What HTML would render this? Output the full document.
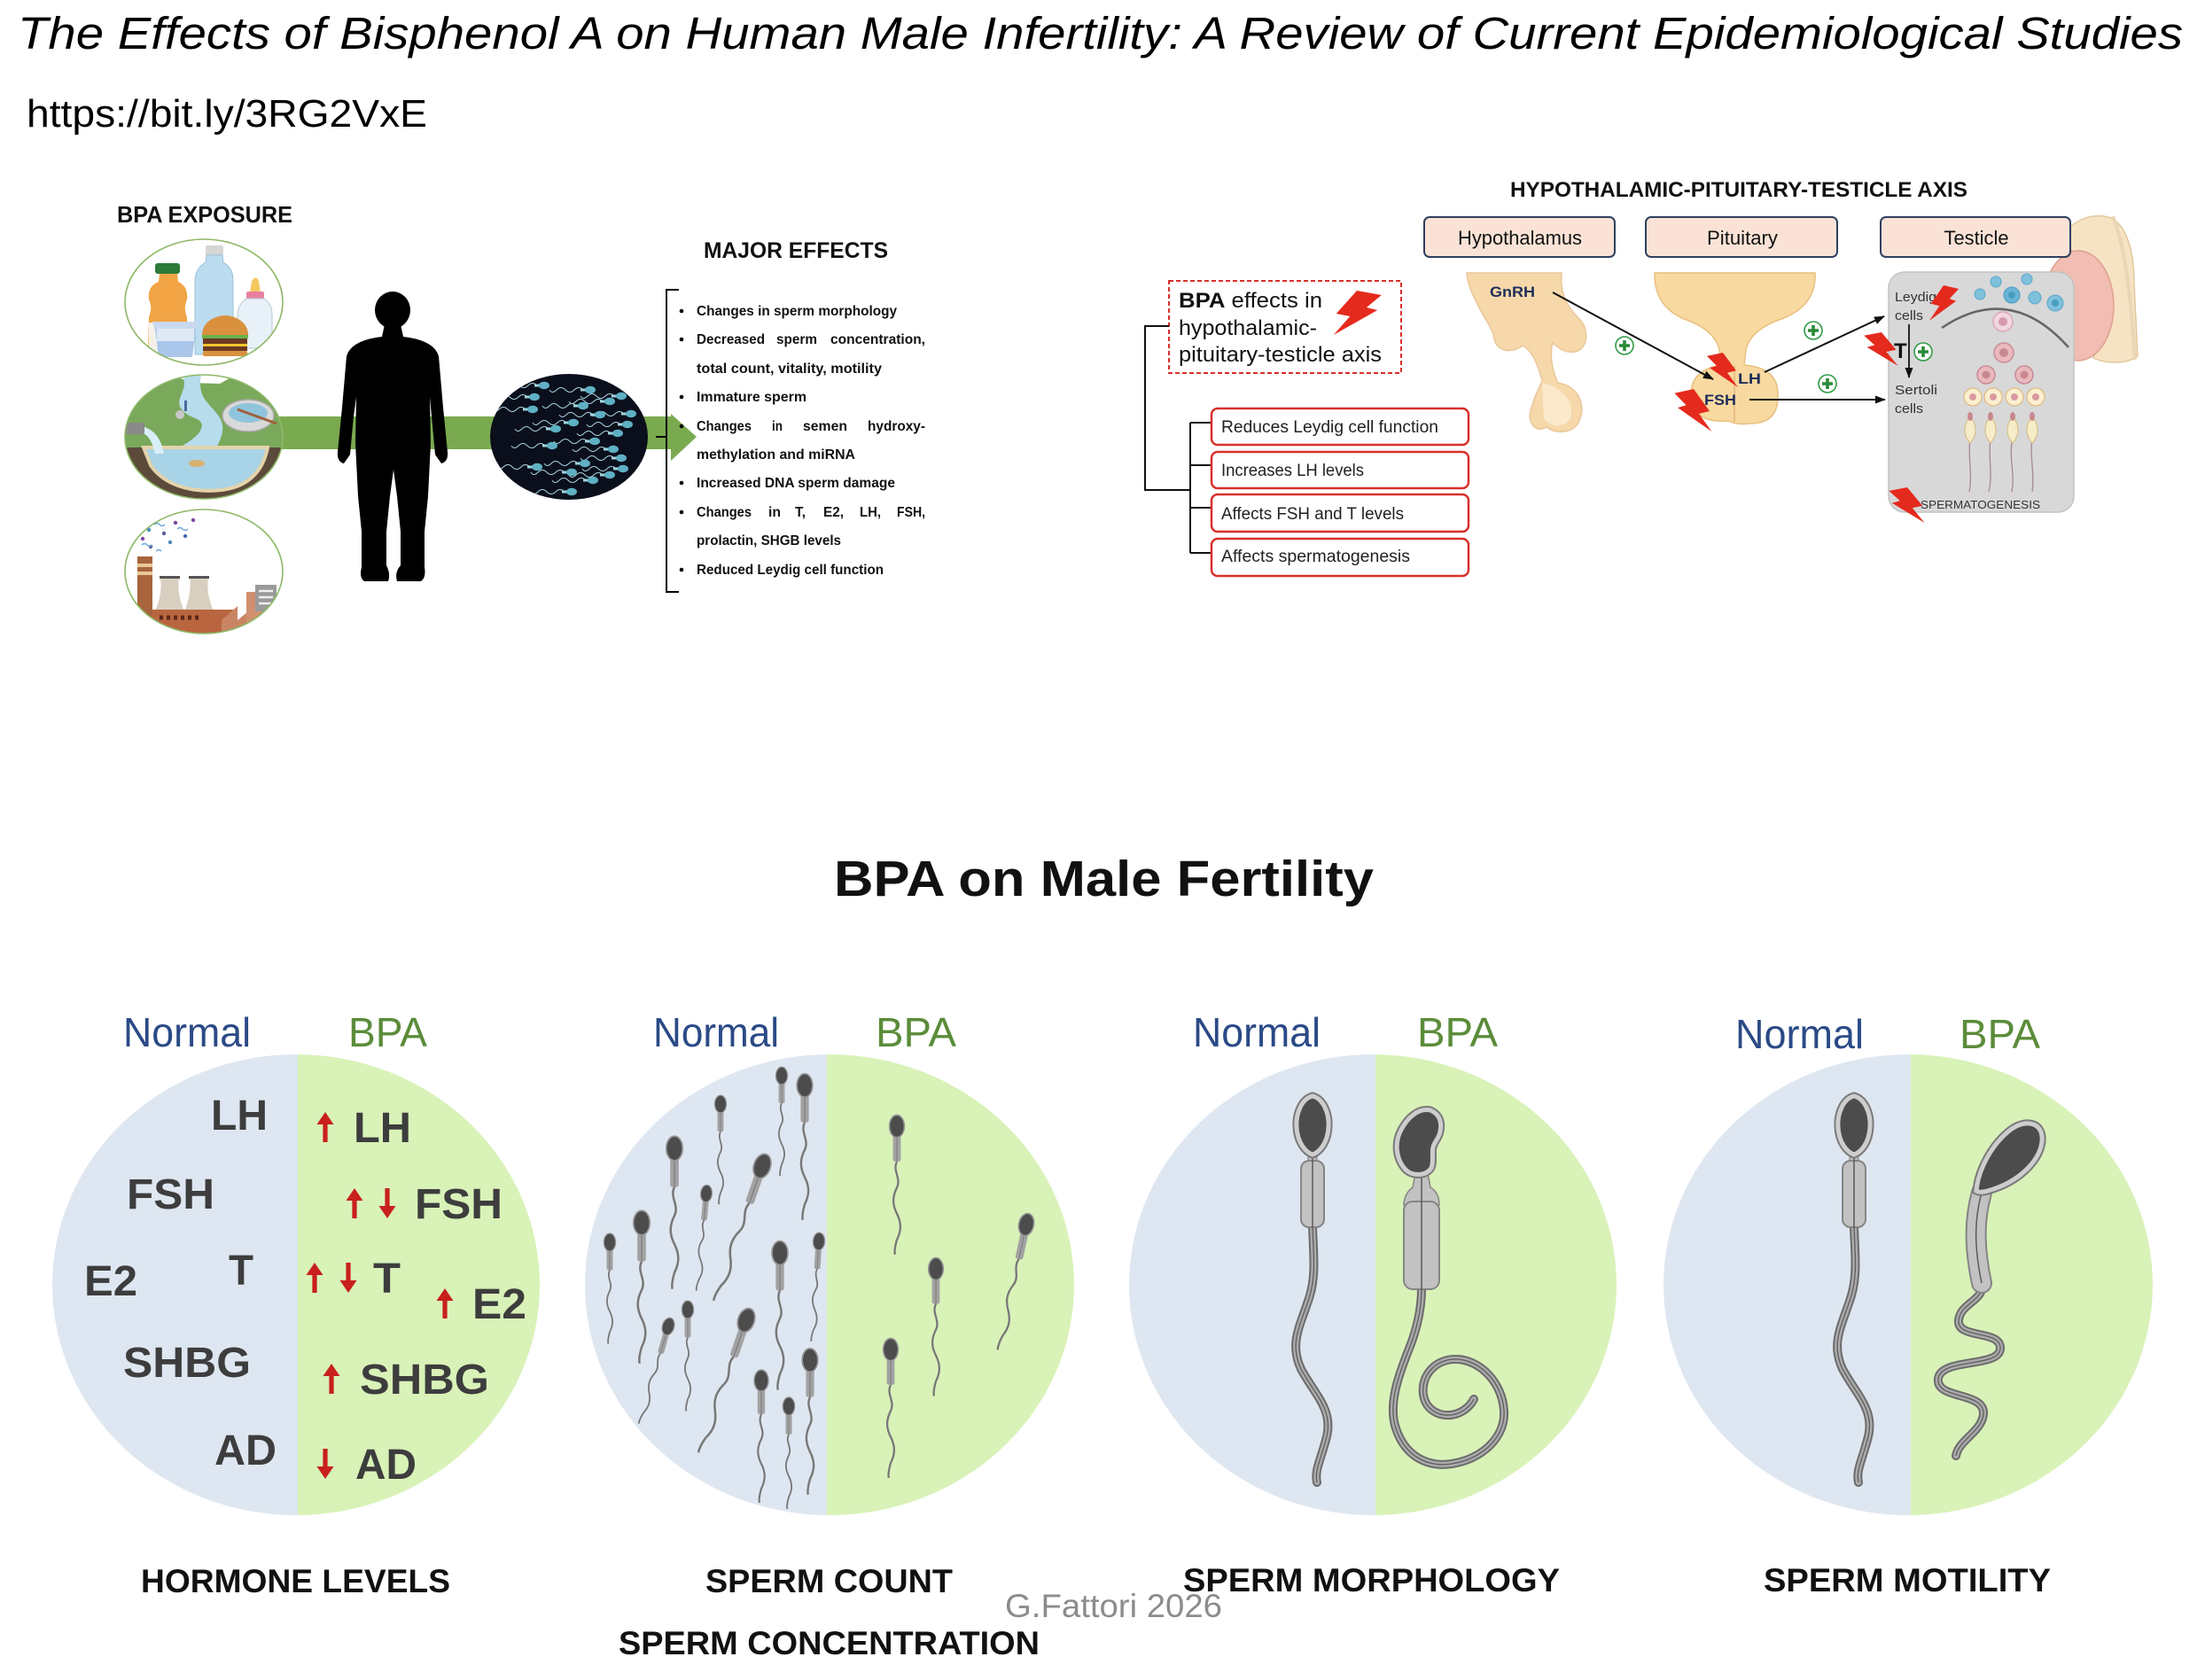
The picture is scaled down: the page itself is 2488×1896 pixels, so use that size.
<!DOCTYPE html>
<html><head><meta charset="utf-8">
<style>
html,body{margin:0;padding:0;background:#fff;}
svg{display:block;}
text{font-family:"Liberation Sans",sans-serif;}
</style></head><body>
<svg width="2488" height="1896" viewBox="0 0 2488 1896" xmlns="http://www.w3.org/2000/svg">
<defs>
  <clipPath id="c1"><ellipse cx="230" cy="341" rx="89" ry="71"/></clipPath>
  <clipPath id="c2"><ellipse cx="230" cy="493" rx="89" ry="70"/></clipPath>
  <clipPath id="c3"><ellipse cx="230" cy="645" rx="89" ry="70"/></clipPath>
  <clipPath id="cd"><ellipse cx="642" cy="493" rx="89" ry="71"/></clipPath>
  <clipPath id="bc1"><ellipse cx="334" cy="1450" rx="275" ry="260"/></clipPath>
  <clipPath id="bc2"><ellipse cx="936" cy="1450" rx="276" ry="260"/></clipPath>
  <clipPath id="bc3"><ellipse cx="1549" cy="1450" rx="275" ry="260"/></clipPath>
  <clipPath id="bc4"><ellipse cx="2153" cy="1450" rx="276" ry="260"/></clipPath>
  <marker id="ah" markerWidth="12" markerHeight="10" refX="11" refY="5" orient="auto" markerUnits="userSpaceOnUse"><path d="M0 0.5 L12 5 L0 9.5 Z" fill="#111"/></marker>
  <g id="plus"><circle r="10" fill="#fff" stroke="#2f9a44" stroke-width="1.6"/><path d="M-6 0H6M0 -6V6" stroke="#2a8a38" stroke-width="3.6"/></g>
  <path id="bolt" d="M20 0 L38 5 L27 19 L35 22 L3 50 L15 29 L5 26 Z" fill="#e42a1d"/>
  <g id="up"><path d="M0 0 L-9.5 14 L-2.6 14 L-2.6 34 L2.6 34 L2.6 14 L9.5 14 Z" fill="#c8201c"/></g>
  <g id="ss">
    <path d="M0 38 c-5 10 5 18 0 28 s-5 18 0 28 s5 18 0 28 c-2 7 -3 12 -2 16" stroke="#787878" stroke-width="2.2" fill="none"/>
    <rect x="-4.2" y="10" width="8.4" height="28" rx="2.5" fill="#a2a2a2"/>
    <line x1="0" y1="10" x2="0" y2="38" stroke="#7a7a7a" stroke-width="1"/>
    <ellipse cx="0" cy="0" rx="8" ry="12" fill="#4c4c4c" stroke="#959595" stroke-width="1.5"/>
  </g>
  <g id="cs">
    <path d="M-8 0 q-5 -5 -10 0 t-10 0 t-10 0 t-8 0" stroke="#a9d2de" stroke-width="1" fill="none"/>
    <rect x="-11" y="-1.5" width="7" height="3" fill="#9fd3de"/>
    <ellipse cx="0" cy="0" rx="6" ry="4.2" fill="#5fb0c4"/>
  </g>
  <path id="hN" d="M1481 1237 C1469 1240 1462 1256 1463 1272 C1464 1290 1473 1300 1481 1303 C1489 1300 1498 1290 1499 1272 C1500 1256 1493 1240 1481 1237 Z"/>
  <path id="tN" fill="none" d="M1481 1384 C1482 1415 1485 1438 1478 1462 C1468 1495 1454 1515 1468 1545 C1484 1575 1506 1592 1496 1625 C1490 1648 1483 1660 1486 1673"/>
  <g id="bigN">
    <use href="#tN" stroke="#6c6c6c" stroke-width="10" stroke-linecap="round"/>
    <use href="#tN" stroke="#ababab" stroke-width="6" stroke-linecap="round"/>
    <use href="#tN" stroke="#5e5e5e" stroke-width="1.3"/>
    <rect x="1476" y="1298" width="10" height="16" fill="#bdbdbd" stroke="#888" stroke-width="1.2"/>
    <rect x="1468" y="1310" width="26" height="75" rx="9" fill="#c2c2c2" stroke="#858585" stroke-width="2"/>
    <line x1="1481" y1="1303" x2="1481" y2="1386" stroke="#5a5a5a" stroke-width="1.5"/>
    <use href="#hN" fill="none" stroke="#7a7a7a" stroke-width="9"/>
    <use href="#hN" fill="#4c4c4c" stroke="#cdcdcd" stroke-width="5"/>
  </g>
  <path id="hB" d="M1614 1253 C1600 1250 1588 1262 1581 1275 C1573 1290 1575 1308 1586 1320 C1594 1328 1610 1327 1615 1318 C1619 1308 1613 1298 1620 1288 C1627 1278 1630 1260 1614 1253 Z"/>
  <path id="tB" fill="none" d="M1604 1454 C1604 1480 1598 1502 1590 1522 C1578 1552 1566 1585 1575 1612 C1586 1645 1612 1656 1638 1652 C1672 1647 1699 1622 1697 1592 C1695 1560 1670 1535 1644 1534 C1620 1533 1603 1552 1606 1574 C1609 1593 1627 1600 1642 1596 C1653 1593 1660 1585 1663 1579"/>
  <path id="hM" d="M2230 1344 C2232 1320 2248 1290 2270 1274 C2288 1262 2306 1268 2304 1288 C2302 1308 2282 1330 2252 1341 C2243 1344 2235 1347 2230 1344 Z"/>
  <path id="mM" fill="none" d="M2236 1346 C2228 1375 2227 1405 2236 1448"/>
  <path id="tM" fill="none" d="M2236 1448 C2240 1468 2212 1470 2210 1490 C2208 1512 2258 1500 2257 1522 C2256 1544 2190 1532 2187 1556 C2184 1580 2240 1570 2238 1596 C2236 1616 2210 1625 2207 1643"/>
</defs>

<!-- Title -->
<text x="20" y="55" font-size="51" font-style="italic" fill="#000" textLength="2443" lengthAdjust="spacingAndGlyphs">The Effects of Bisphenol A on Human Male Infertility: A Review of Current Epidemiological Studies</text>
<text x="30" y="143" font-size="44" fill="#000" textLength="452" lengthAdjust="spacingAndGlyphs">https://bit.ly/3RG2VxE</text>

<!-- ===== TOP LEFT ===== -->
<text x="132" y="251" font-size="26" font-weight="bold" fill="#111" textLength="198" lengthAdjust="spacingAndGlyphs">BPA EXPOSURE</text>

<rect x="300" y="470" width="460" height="37" fill="#7aaa50"/>
<path d="M757 467 L786 493 L757 520 Z" fill="#7aaa50"/>

<!-- circle 1: products -->
<ellipse cx="230" cy="341" rx="89" ry="71" fill="#fff"/>
<g clip-path="url(#c1)">
  <rect x="175" y="297" width="28" height="12" rx="3" fill="#2e7a3a"/>
  <path d="M180 309 L200 309 L201 318 C210 322 212 330 211 338 C208 345 208 350 211 358 L212 397 L167 397 L168 358 C171 350 171 345 168 338 C167 330 169 322 179 318 Z" fill="#f2a444"/>
  <rect x="168" y="364" width="44" height="33" fill="#f5f1ea"/>
  <rect x="232" y="277" width="20" height="11" rx="2" fill="#d6d6d6"/>
  <path d="M233 288 L251 288 L252 296 C262 302 263 310 263 318 L263 400 L220 400 L220 318 C220 310 222 302 232 296 Z" fill="#bcdcf0" stroke="#9bbfd8" stroke-width="1"/>
  <path d="M284 318 C286 312 291 312 292 318 L294 330 L282 330 Z" fill="#f5c860"/>
  <rect x="278" y="329" width="20" height="8" rx="2" fill="#e87fa0"/>
  <path d="M278 337 L298 337 C305 342 307 348 307 356 L307 393 L268 393 L268 356 C268 348 271 342 278 337 Z" fill="#e8f1f7" stroke="#b8c8d4" stroke-width="1"/>
  <path d="M172 363 L224 363 L222 371 L174 371 Z" fill="#c8daf0"/>
  <path d="M175 371 L221 371 L217 403 L179 403 Z" fill="#aac6ea"/>
  <rect x="177" y="371" width="42" height="14" fill="#dfe9f6"/>
  <path d="M228 378 C228 362 245 356 254 356 C263 356 280 362 280 378 Z" fill="#d9913e"/>
  <rect x="228" y="378" width="52" height="4" fill="#6ab04c"/>
  <rect x="229" y="382" width="50" height="6" fill="#6b3a22"/>
  <rect x="229" y="388" width="50" height="3" fill="#f4c430"/>
  <rect x="229" y="391" width="50" height="5" fill="#6b3a22"/>
  <rect x="229" y="396" width="50" height="6" rx="2" fill="#d9913e"/>
</g>
<ellipse cx="230" cy="341" rx="89" ry="71" fill="none" stroke="#8db866" stroke-width="1.6"/>

<!-- circle 2: environment -->
<g clip-path="url(#c2)">
  <rect x="140" y="420" width="182" height="150" fill="#7aa95c"/>
  <path d="M196 423 L266 423 L248 433 L214 432 Z" fill="#fff"/>
  <path d="M205 423 C215 440 195 450 205 462 C215 475 235 470 225 488 C215 500 200 505 192 512 L242 512 C247 497 257 485 247 470 C237 455 222 450 227 423 Z" fill="#b7dcec"/>
  <rect x="140" y="505" width="182" height="65" fill="#5c4a3a"/>
  <path d="M162 505 L302 505 C297 530 282 549 250 553 C214 557 184 546 170 525 Z" fill="#a9d3e6" stroke="#e3d3ab" stroke-width="4"/>
  <rect x="141" y="477" width="22" height="13" fill="#8a8a8a"/>
  <path d="M163 482 C175 486 182 496 185 512 L175 512 C172 500 168 492 163 490 Z" fill="#d8eef8"/>
  <ellipse cx="280" cy="469" rx="29" ry="18" fill="#d9d9d9" stroke="#a8a8a8" stroke-width="1.5"/>
  <ellipse cx="280" cy="466" rx="22" ry="11" fill="#8fc4dc"/>
  <path d="M268 462 L312 478" stroke="#a0603a" stroke-width="3"/>
  <ellipse cx="222" cy="523" rx="9" ry="4" fill="#d8b070"/>
  <circle cx="203" cy="468" r="5" fill="#c8c8c8"/>
  <rect x="208" y="452" width="3" height="12" fill="#4a6aa0"/>
</g>
<ellipse cx="230" cy="493" rx="89" ry="70" fill="none" stroke="#8db866" stroke-width="1.6"/>

<!-- circle 3: factory -->
<ellipse cx="230" cy="645" rx="89" ry="70" fill="#fff"/>
<g clip-path="url(#c3)">
  <circle cx="181" cy="583" r="2.2" fill="#4a6ab0"/><circle cx="198" cy="590" r="2.2" fill="#7a4aa0"/>
  <circle cx="168" cy="598" r="2.2" fill="#4a8ac0"/><circle cx="185" cy="602" r="2.2" fill="#5a5a9a"/>
  <circle cx="209" cy="605" r="2.2" fill="#4a6ab0"/><circle cx="161" cy="608" r="2.2" fill="#7a4aa0"/>
  <circle cx="192" cy="612" r="2.2" fill="#4a8ac0"/><circle cx="170" cy="617" r="2.2" fill="#5a5a9a"/>
  <circle cx="218" cy="587" r="2.2" fill="#7a4aa0"/>
  <path d="M174 592 q3 -3 6 0 t6 0 M200 597 q3 -3 6 0 t6 0 M160 615 q3 -3 6 0 t6 0 M176 622 q3 -3 6 0" stroke="#6aa8d8" stroke-width="1.4" fill="none"/>
  <rect x="155" y="628" width="17" height="92" fill="#a8643c"/>
  <rect x="155" y="636" width="17" height="4" fill="#e8c89a"/>
  <rect x="155" y="645" width="17" height="4" fill="#e8c89a"/>
  <path d="M181 652 L202 652 C200 665 203 678 208 690 L175 690 C180 678 183 665 181 652 Z" fill="#d8cfc0"/>
  <path d="M214 652 L235 652 C233 665 236 678 241 690 L208 690 C213 678 216 665 214 652 Z" fill="#d8cfc0"/>
  <rect x="180" y="650" width="23" height="3" fill="#555"/>
  <rect x="213" y="650" width="23" height="3" fill="#555"/>
  <rect x="172" y="688" width="95" height="30" fill="#b9653f"/>
  <path d="M180 697 h4 m4 0 h4 m4 0 h4 m4 0 h4 m4 0 h4 m4 0 h4" stroke="#5a2a1a" stroke-width="5"/>
  <path d="M250 718 L250 700 L268 684 L268 700 L280 690 L280 718 Z" fill="#c98563"/>
  <rect x="278" y="668" width="34" height="50" fill="#d09070"/>
  <rect x="288" y="660" width="24" height="30" fill="#9a9a9a"/>
  <path d="M292 667 h16 M292 674 h16 M292 681 h16" stroke="#eee" stroke-width="2.5"/>
</g>
<ellipse cx="230" cy="645" rx="89" ry="70" fill="none" stroke="#8db866" stroke-width="1.6"/>

<!-- man silhouette -->
<ellipse cx="443" cy="350" rx="20" ry="21" fill="#000"/>
<path d="M434 366 L452 366 L455 380 Q490 384 495 402 L500 460 L505 510 Q506 521 498 523 L491 513 L487 470 L485 448 L486 500 L483 560 L479 600 L479 640 Q481 652 475 656 L448 656 Q445 646 452 638 L452 600 L448 560 L444 530 L440 560 L436 600 L436 638 Q441 648 438 656 L411 656 Q405 652 408 640 L408 600 L404 560 L401 500 L402 448 L399 470 L395 513 L388 523 Q380 521 381 510 L386 460 L391 402 Q396 384 431 380 Z" fill="#000"/>

<!-- dark sperm circle -->
<ellipse cx="642" cy="493" rx="89" ry="71" fill="#0b0f1c"/>
<g clip-path="url(#cd)">
  <use href="#cs" x="614" y="435"/><use href="#cs" x="666" y="440"/><use href="#cs" x="701" y="447"/>
  <use href="#cs" x="603" y="448"/><use href="#cs" x="688" y="453"/><use href="#cs" x="658" y="458"/>
  <use href="#cs" x="601" y="462"/><use href="#cs" x="712" y="467"/><use href="#cs" x="677" y="468"/>
  <use href="#cs" x="647" y="477"/><use href="#cs" x="708" y="479"/><use href="#cs" x="627" y="484"/>
  <use href="#cs" x="697" y="489"/><use href="#cs" x="671" y="498"/><use href="#cs" x="623" y="503"/>
  <use href="#cs" x="692" y="507"/><use href="#cs" x="701" y="517"/><use href="#cs" x="606" y="527"/>
  <use href="#cs" x="660" y="523"/><use href="#cs" x="703" y="529"/><use href="#cs" x="645" y="533"/>
  <use href="#cs" x="669" y="542"/><use href="#cs" x="645" y="555"/><use href="#cs" x="688" y="536"/>
</g>

<!-- Major effects -->
<text x="794" y="291" font-size="25" font-weight="bold" fill="#111" textLength="208" lengthAdjust="spacingAndGlyphs">MAJOR EFFECTS</text>
<path d="M766 327 L752 327 L752 668 L766 668 M740 493 L752 493" stroke="#000" stroke-width="2" fill="none"/>
<g fill="#000">
  <circle cx="769" cy="351" r="2.3"/><circle cx="769" cy="383" r="2.3"/><circle cx="769" cy="448" r="2.3"/>
  <circle cx="769" cy="481" r="2.3"/><circle cx="769" cy="545" r="2.3"/><circle cx="769" cy="578" r="2.3"/>
  <circle cx="769" cy="643" r="2.3"/>
</g>
<g font-size="16" font-weight="bold" fill="#111">
  <text x="786" y="356" textLength="226" lengthAdjust="spacingAndGlyphs">Changes in sperm morphology</text>
  <text x="786" y="388" textLength="77" lengthAdjust="spacingAndGlyphs">Decreased</text>
  <text x="876" y="388" textLength="46" lengthAdjust="spacingAndGlyphs">sperm</text>
  <text x="937" y="388" textLength="107" lengthAdjust="spacingAndGlyphs">concentration,</text>
  <text x="786" y="421" textLength="209" lengthAdjust="spacingAndGlyphs">total count, vitality, motility</text>
  <text x="786" y="453" textLength="124" lengthAdjust="spacingAndGlyphs">Immature sperm</text>
  <text x="786" y="486" textLength="62" lengthAdjust="spacingAndGlyphs">Changes</text>
  <text x="871" y="486" textLength="12" lengthAdjust="spacingAndGlyphs">in</text>
  <text x="906" y="486" textLength="50" lengthAdjust="spacingAndGlyphs">semen</text>
  <text x="979" y="486" textLength="65" lengthAdjust="spacingAndGlyphs">hydroxy-</text>
  <text x="786" y="518" textLength="179" lengthAdjust="spacingAndGlyphs">methylation and miRNA</text>
  <text x="786" y="550" textLength="224" lengthAdjust="spacingAndGlyphs">Increased DNA sperm damage</text>
  <text x="786" y="583" textLength="62" lengthAdjust="spacingAndGlyphs">Changes</text>
  <text x="867" y="583" textLength="14" lengthAdjust="spacingAndGlyphs">in</text>
  <text x="897" y="583" textLength="12" lengthAdjust="spacingAndGlyphs">T,</text>
  <text x="929" y="583" textLength="23" lengthAdjust="spacingAndGlyphs">E2,</text>
  <text x="970" y="583" textLength="24" lengthAdjust="spacingAndGlyphs">LH,</text>
  <text x="1012" y="583" textLength="32" lengthAdjust="spacingAndGlyphs">FSH,</text>
  <text x="786" y="615" textLength="163" lengthAdjust="spacingAndGlyphs">prolactin, SHGB levels</text>
  <text x="786" y="648" textLength="211" lengthAdjust="spacingAndGlyphs">Reduced Leydig cell function</text>
</g>

<!-- ===== TOP RIGHT: HPT axis ===== -->
<text x="1704" y="222" font-size="24" font-weight="bold" fill="#111" textLength="516" lengthAdjust="spacingAndGlyphs">HYPOTHALAMIC-PITUITARY-TESTICLE AXIS</text>

<path d="M2318 282 C2330 250 2360 238 2382 246 C2402 256 2408 290 2408 320 L2412 402 C2398 412 2375 410 2362 404 C2382 352 2372 305 2352 290 C2342 282 2330 280 2318 282 Z" fill="#f6e3c4" stroke="#e2c89c" stroke-width="1.5"/>
<ellipse cx="2345" cy="345" rx="40" ry="62" fill="#f2bdb2" stroke="#dfa08e" stroke-width="1.5"/>
<path d="M2384 244 C2398 280 2404 330 2409 406" stroke="#e9d6b4" stroke-width="4" fill="none"/>

<rect x="1607" y="245" width="215" height="45" rx="6" fill="#fae3d6" stroke="#2f3f60" stroke-width="2"/>
<rect x="1857" y="245" width="216" height="45" rx="6" fill="#fae3d6" stroke="#2f3f60" stroke-width="2"/>
<rect x="2122" y="245" width="214" height="45" rx="6" fill="#fae3d6" stroke="#2f3f60" stroke-width="2"/>
<text x="1715" y="276" font-size="22" fill="#111" text-anchor="middle" textLength="140" lengthAdjust="spacingAndGlyphs">Hypothalamus</text>
<text x="1966" y="276" font-size="22" fill="#111" text-anchor="middle" textLength="80" lengthAdjust="spacingAndGlyphs">Pituitary</text>
<text x="2230" y="276" font-size="22" fill="#111" text-anchor="middle" textLength="73" lengthAdjust="spacingAndGlyphs">Testicle</text>

<rect x="1319" y="317" width="262" height="104" fill="#fff" stroke="#d8302a" stroke-width="2" stroke-dasharray="5 3"/>
<text x="1330" y="347" font-size="24" fill="#111" textLength="162" lengthAdjust="spacingAndGlyphs"><tspan font-weight="bold">BPA</tspan> effects in</text>
<text x="1330" y="378" font-size="24" fill="#111" textLength="156" lengthAdjust="spacingAndGlyphs">hypothalamic-</text>
<text x="1330" y="408" font-size="24" fill="#111" textLength="229" lengthAdjust="spacingAndGlyphs">pituitary-testicle axis</text>
<use href="#bolt" transform="translate(1500,328) scale(1.55,1.0)"/>

<path d="M1319 368 L1292 368 L1292 553 L1343 553 M1343 477 L1343 624 M1343 477 L1367 477 M1343 525 L1367 525 M1343 573 L1367 573 M1343 624 L1367 624" stroke="#111" stroke-width="2" fill="none"/>

<g fill="#fff" stroke="#d8302a" stroke-width="2.5">
  <rect x="1367" y="461" width="290" height="41" rx="7"/>
  <rect x="1367" y="510" width="290" height="41" rx="7"/>
  <rect x="1367" y="558" width="290" height="42" rx="7"/>
  <rect x="1367" y="608" width="290" height="42" rx="7"/>
</g>
<g font-size="19" fill="#222">
  <text x="1378" y="488" textLength="245" lengthAdjust="spacingAndGlyphs">Reduces Leydig cell function</text>
  <text x="1378" y="537" textLength="161" lengthAdjust="spacingAndGlyphs">Increases LH levels</text>
  <text x="1378" y="586" textLength="206" lengthAdjust="spacingAndGlyphs">Affects FSH and T levels</text>
  <text x="1378" y="634" textLength="213" lengthAdjust="spacingAndGlyphs">Affects spermatogenesis</text>
</g>

<!-- hypothalamus drawing -->
<path d="M1655 308 L1762 308 C1760 330 1767 345 1782 360 C1794 372 1792 394 1777 397 C1765 399 1758 392 1752 387 C1748 402 1752 420 1758 432 C1780 436 1790 455 1782 475 C1775 490 1755 490 1745 482 C1732 490 1722 475 1728 460 C1732 445 1738 435 1740 430 C1735 410 1728 395 1718 390 C1705 400 1688 396 1686 382 C1684 370 1675 360 1668 345 C1660 330 1656 320 1655 308 Z" fill="#f6d8aa" stroke="#eac79a" stroke-width="1.5"/>
<path d="M1740 432 C1760 436 1778 452 1772 472 C1765 484 1748 482 1742 472" fill="#fbe9cc"/>
<text x="1681" y="335" font-size="17" font-weight="bold" fill="#1f2d5a" textLength="51" lengthAdjust="spacingAndGlyphs">GnRH</text>

<path d="M1867 308 L2048 308 Q2050 345 2010 360 Q1975 372 1970 395 L1968 412 Q2008 415 2006 448 Q2006 478 1975 478 Q1960 480 1950 475 Q1910 478 1908 448 Q1906 418 1942 412 L1940 395 Q1935 372 1900 360 Q1866 345 1867 308 Z" fill="#f8d9a0" stroke="#e8c080" stroke-width="1.5"/>
<path d="M1957 413 L1957 476" stroke="#e0b878" stroke-width="1.5"/>
<text x="1961" y="433" font-size="17" font-weight="bold" fill="#1f2d5a" textLength="26" lengthAdjust="spacingAndGlyphs">LH</text>
<text x="1923" y="457" font-size="17" font-weight="bold" fill="#1f2d5a" textLength="36" lengthAdjust="spacingAndGlyphs">FSH</text>

<rect x="2131" y="307" width="209" height="271" rx="18" fill="#d8d8d8" stroke="#c2c2c2" stroke-width="1.5"/>
<g>
  <circle cx="2234" cy="332" r="6" fill="#7fc0dc" stroke="#5aa6c8"/>
  <circle cx="2252" cy="318" r="6" fill="#7fc0dc" stroke="#5aa6c8"/>
  <circle cx="2270" cy="333" r="9" fill="#6ab4d6" stroke="#4a9cc0"/>
  <circle cx="2287" cy="315" r="6" fill="#7fc0dc" stroke="#5aa6c8"/>
  <circle cx="2296" cy="336" r="7" fill="#7fc0dc" stroke="#5aa6c8"/>
  <circle cx="2319" cy="342" r="9" fill="#7fc0dc" stroke="#5aa6c8"/>
  <circle cx="2319" cy="342" r="4" fill="#4a9cc0"/>
  <circle cx="2270" cy="333" r="4" fill="#4a9cc0"/>
</g>
<path d="M2191 370 Q2268 318 2334 392" stroke="#666" stroke-width="2.5" fill="none"/>
<circle cx="2260" cy="363" r="11" fill="#f2d6e2" stroke="#d8a8b8" stroke-width="1.5"/><circle cx="2260" cy="363" r="5" fill="#d89aae"/>
<circle cx="2261" cy="398" r="11" fill="#e9b9be" stroke="#c88c96" stroke-width="1.5"/><circle cx="2261" cy="398" r="5" fill="#c88890"/>
<circle cx="2241" cy="423" r="10" fill="#e9b9be" stroke="#c88c96" stroke-width="1.5"/><circle cx="2241" cy="423" r="4.5" fill="#c88890"/>
<circle cx="2284" cy="423" r="10" fill="#e9b9be" stroke="#c88c96" stroke-width="1.5"/><circle cx="2284" cy="423" r="4.5" fill="#c88890"/>
<g fill="#fbefd0" stroke="#e0c090" stroke-width="1.5">
  <circle cx="2226" cy="448" r="10"/><circle cx="2249" cy="448" r="10"/><circle cx="2273" cy="448" r="10"/><circle cx="2297" cy="448" r="10"/>
</g>
<g fill="#d89aa0"><circle cx="2226" cy="448" r="4"/><circle cx="2249" cy="448" r="4"/><circle cx="2273" cy="448" r="4"/><circle cx="2297" cy="448" r="4"/></g>
<g stroke="#a88890" stroke-width="1.3" fill="none">
  <path d="M2223 495 C2220 515 2226 535 2222 555"/><path d="M2246 495 C2243 515 2249 535 2244 555"/>
  <path d="M2271 495 C2266 515 2274 535 2270 555"/><path d="M2293 495 C2290 515 2296 535 2293 555"/>
</g>
<g fill="#f6ecc8" stroke="#d8c088" stroke-width="1.2">
  <path d="M2223 470 C2230 478 2232 490 2223 500 C2214 490 2216 478 2223 470 Z"/>
  <path d="M2246 470 C2253 478 2255 490 2246 500 C2237 490 2239 478 2246 470 Z"/>
  <path d="M2271 470 C2278 478 2280 490 2271 500 C2262 490 2264 478 2271 470 Z"/>
  <path d="M2293 470 C2300 478 2302 490 2293 500 C2284 490 2286 478 2293 470 Z"/>
</g>
<g fill="#c88890"><ellipse cx="2223" cy="470" rx="3" ry="5"/><ellipse cx="2246" cy="470" rx="3" ry="5"/><ellipse cx="2271" cy="470" rx="3" ry="5"/><ellipse cx="2293" cy="470" rx="3" ry="5"/></g>

<g font-size="15" fill="#333">
  <text x="2138" y="340" textLength="47" lengthAdjust="spacingAndGlyphs">Leydig</text>
  <text x="2138" y="361" textLength="32" lengthAdjust="spacingAndGlyphs">cells</text>
  <text x="2138" y="445" textLength="48" lengthAdjust="spacingAndGlyphs">Sertoli</text>
  <text x="2138" y="466" textLength="32" lengthAdjust="spacingAndGlyphs">cells</text>
</g>
<text x="2167" y="574" font-size="13" fill="#333" textLength="135" lengthAdjust="spacingAndGlyphs">SPERMATOGENESIS</text>
<text x="2137" y="404" font-size="24" font-weight="bold" fill="#111">T</text>
<line x1="2154" y1="366" x2="2154" y2="426" stroke="#111" stroke-width="1.8" marker-end="url(#ah)"/>

<line x1="1752" y1="330" x2="1933" y2="428" stroke="#111" stroke-width="2" marker-end="url(#ah)"/>
<line x1="1991" y1="420" x2="2126" y2="357" stroke="#111" stroke-width="2" marker-end="url(#ah)"/>
<line x1="1974" y1="451" x2="2127" y2="451" stroke="#111" stroke-width="2" marker-end="url(#ah)"/>
<use href="#plus" x="1833" y="390"/>
<use href="#plus" x="2046" y="373"/>
<use href="#plus" x="2062" y="433"/>
<use href="#plus" x="2170" y="397"/>

<use href="#bolt" transform="translate(2174,322) scale(0.95,0.8)"/>
<use href="#bolt" transform="translate(2145,375) scale(-1.1,0.76)"/>
<use href="#bolt" transform="translate(1964,398) scale(-1.0,0.78)"/>
<use href="#bolt" transform="translate(1935,439) scale(-1.2,0.96)"/>
<use href="#bolt" transform="translate(2175,550) scale(-1.15,0.8)"/>

<!-- ===== BOTTOM ===== -->
<text x="941" y="1011" font-size="57" font-weight="bold" fill="#111" textLength="609" lengthAdjust="spacingAndGlyphs">BPA on Male Fertility</text>

<g font-size="46">
  <text x="139" y="1181" fill="#2b4a86" textLength="144" lengthAdjust="spacingAndGlyphs">Normal</text>
  <text x="393" y="1181" fill="#5b8c3a" textLength="89" lengthAdjust="spacingAndGlyphs">BPA</text>
  <text x="737" y="1181" fill="#2b4a86" textLength="142" lengthAdjust="spacingAndGlyphs">Normal</text>
  <text x="988" y="1181" fill="#5b8c3a" textLength="91" lengthAdjust="spacingAndGlyphs">BPA</text>
  <text x="1346" y="1181" fill="#2b4a86" textLength="144" lengthAdjust="spacingAndGlyphs">Normal</text>
  <text x="1599" y="1181" fill="#5b8c3a" textLength="91" lengthAdjust="spacingAndGlyphs">BPA</text>
  <text x="1958" y="1183" fill="#2b4a86" textLength="145" lengthAdjust="spacingAndGlyphs">Normal</text>
  <text x="2211" y="1183" fill="#5b8c3a" textLength="91" lengthAdjust="spacingAndGlyphs">BPA</text>
</g>

<g clip-path="url(#bc1)"><rect x="55" y="1186" width="281" height="530" fill="#dee7f1"/><rect x="336" y="1186" width="280" height="530" fill="#d9f2b8"/></g>
<g clip-path="url(#bc2)"><rect x="656" y="1186" width="277" height="530" fill="#dee7f1"/><rect x="933" y="1186" width="285" height="530" fill="#d9f2b8"/></g>
<g clip-path="url(#bc3)"><rect x="1270" y="1186" width="282" height="530" fill="#dee7f1"/><rect x="1552" y="1186" width="280" height="530" fill="#d9f2b8"/></g>
<g clip-path="url(#bc4)"><rect x="1873" y="1186" width="283" height="530" fill="#dee7f1"/><rect x="2156" y="1186" width="280" height="530" fill="#d9f2b8"/></g>

<g font-size="48" font-weight="bold" fill="#3d3d3d">
  <text x="238" y="1275" textLength="64" lengthAdjust="spacingAndGlyphs">LH</text>
  <text x="143" y="1364" textLength="99" lengthAdjust="spacingAndGlyphs">FSH</text>
  <text x="95" y="1462" textLength="60" lengthAdjust="spacingAndGlyphs">E2</text>
  <text x="258" y="1450" textLength="28" lengthAdjust="spacingAndGlyphs">T</text>
  <text x="139" y="1554" textLength="144" lengthAdjust="spacingAndGlyphs">SHBG</text>
  <text x="242" y="1653" textLength="70" lengthAdjust="spacingAndGlyphs">AD</text>
  <text x="399" y="1289" textLength="65" lengthAdjust="spacingAndGlyphs">LH</text>
  <text x="468" y="1375" textLength="99" lengthAdjust="spacingAndGlyphs">FSH</text>
  <text x="421" y="1459" textLength="31" lengthAdjust="spacingAndGlyphs">T</text>
  <text x="533" y="1488" textLength="61" lengthAdjust="spacingAndGlyphs">E2</text>
  <text x="406" y="1573" textLength="146" lengthAdjust="spacingAndGlyphs">SHBG</text>
  <text x="401" y="1669" textLength="69" lengthAdjust="spacingAndGlyphs">AD</text>
</g>
<use href="#up" x="367" y="1255"/>
<use href="#up" x="400" y="1341"/>
<use href="#up" transform="translate(437,1375) rotate(180)"/>
<use href="#up" x="355" y="1425"/>
<use href="#up" transform="translate(393,1459) rotate(180)"/>
<use href="#up" x="502" y="1454"/>
<use href="#up" x="374" y="1539"/>
<use href="#up" transform="translate(367,1669) rotate(180)"/>

<g clip-path="url(#bc2)">
  <use href="#ss" transform="translate(882,1214) scale(.82)"/>
  <use href="#ss" transform="translate(908,1225) scale(1.1)"/>
  <use href="#ss" transform="translate(813,1246) scale(.82)"/>
  <use href="#ss" transform="translate(761,1296) scale(1.15)"/>
  <use href="#ss" transform="translate(797,1347) rotate(5) scale(.8)"/>
  <use href="#ss" transform="translate(860,1316) rotate(19) scale(1.17)"/>
  <use href="#ss" transform="translate(724,1380) scale(1.15)"/>
  <use href="#ss" transform="translate(688,1402) scale(.83)"/>
  <use href="#ss" transform="translate(880,1414) scale(1.12)"/>
  <use href="#ss" transform="translate(924,1401) rotate(3.5) scale(.82)"/>
  <use href="#ss" transform="translate(776,1478) scale(.83)"/>
  <use href="#ss" transform="translate(754,1497) rotate(16) scale(.83)"/>
  <use href="#ss" transform="translate(842,1490) rotate(19) scale(1.15)"/>
  <use href="#ss" transform="translate(914,1535) scale(1.1)"/>
  <use href="#ss" transform="translate(859,1558) scale(1.0)"/>
  <use href="#ss" transform="translate(890,1587) scale(.84)"/>
  <use href="#ss" transform="translate(1012,1271) scale(1.05)"/>
  <use href="#ss" transform="translate(1158,1382) rotate(12) scale(1.05)"/>
  <use href="#ss" transform="translate(1056,1432) scale(1.04)"/>
  <use href="#ss" transform="translate(1005,1523) scale(1.05)"/>
</g>

<use href="#bigN"/>
<use href="#tB" stroke="#6c6c6c" stroke-width="10" stroke-linecap="round"/>
<use href="#tB" stroke="#ababab" stroke-width="6" stroke-linecap="round"/>
<use href="#tB" stroke="#5e5e5e" stroke-width="1.3"/>
<path d="M1597 1324 L1611 1324 L1614 1340 C1622 1345 1624 1352 1624 1360 L1584 1360 C1584 1352 1588 1344 1594 1340 Z" fill="#c2c2c2" stroke="#858585" stroke-width="1.5"/>
<rect x="1584" y="1356" width="40" height="99" rx="10" fill="#c2c2c2" stroke="#858585" stroke-width="2"/>
<line x1="1604" y1="1324" x2="1604" y2="1456" stroke="#5a5a5a" stroke-width="1.5"/>
<use href="#hB" fill="none" stroke="#7a7a7a" stroke-width="9"/>
<use href="#hB" fill="#4c4c4c" stroke="#cdcdcd" stroke-width="5"/>

<use href="#bigN" transform="translate(611,0)"/>
<use href="#tM" stroke="#6c6c6c" stroke-width="10" stroke-linecap="round"/>
<use href="#tM" stroke="#ababab" stroke-width="6" stroke-linecap="round"/>
<use href="#tM" stroke="#5e5e5e" stroke-width="1.3"/>
<use href="#mM" stroke="#858585" stroke-width="24" stroke-linecap="round"/>
<use href="#mM" stroke="#c2c2c2" stroke-width="20" stroke-linecap="round"/>
<use href="#mM" stroke="#5a5a5a" stroke-width="1.5"/>
<use href="#hM" fill="none" stroke="#7a7a7a" stroke-width="9"/>
<use href="#hM" fill="#4c4c4c" stroke="#cdcdcd" stroke-width="5"/>

<g font-size="37" font-weight="bold" fill="#111">
  <text x="159" y="1797" textLength="349" lengthAdjust="spacingAndGlyphs">HORMONE LEVELS</text>
  <text x="796" y="1797" textLength="279" lengthAdjust="spacingAndGlyphs">SPERM COUNT</text>
  <text x="698" y="1867" textLength="475" lengthAdjust="spacingAndGlyphs">SPERM CONCENTRATION</text>
  <text x="1335" y="1796" textLength="425" lengthAdjust="spacingAndGlyphs">SPERM MORPHOLOGY</text>
  <text x="1990" y="1796" textLength="324" lengthAdjust="spacingAndGlyphs">SPERM MOTILITY</text>
</g>
<text x="1134" y="1825" font-size="37" fill="#8c8c8c" textLength="245" lengthAdjust="spacingAndGlyphs">G.Fattori 2026</text>
</svg>
</body></html>
